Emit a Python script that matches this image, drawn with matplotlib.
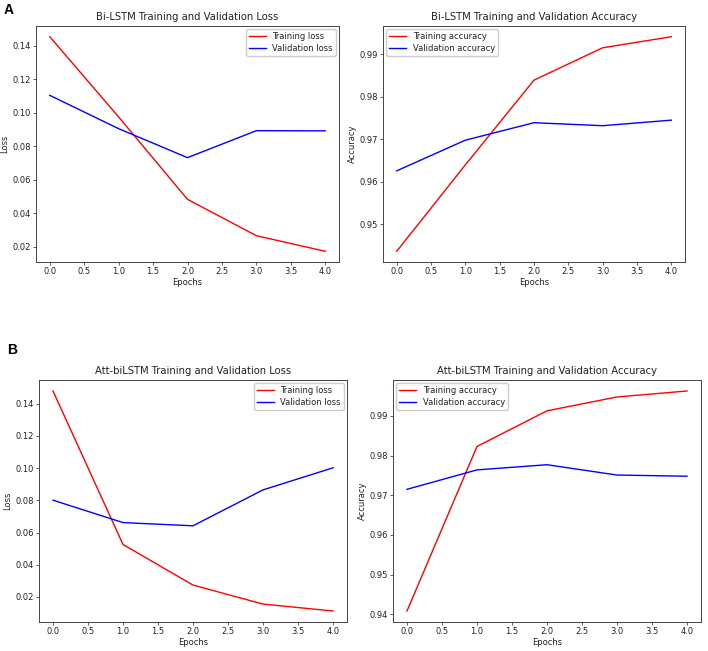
import matplotlib
matplotlib.use("Agg")
import matplotlib.pyplot as plt

epochs = [0, 1, 2, 3, 4]

# Panel A: Bi-LSTM
bilstm_train_loss = [0.1454, 0.0975, 0.0483, 0.0266, 0.0173]
bilstm_val_loss = [0.1104, 0.0905, 0.0732, 0.0893, 0.0892]
bilstm_train_acc = [0.9437, 0.9640, 0.9839, 0.9915, 0.9941]
bilstm_val_acc = [0.9626, 0.9698, 0.9739, 0.9732, 0.9745]

# Panel B: Att-biLSTM
att_train_loss = [0.1479, 0.0526, 0.0274, 0.0156, 0.0113]
att_val_loss = [0.0801, 0.0662, 0.0642, 0.0865, 0.1002]
att_train_acc = [0.9408, 0.9823, 0.9913, 0.9948, 0.9963]
att_val_acc = [0.9715, 0.9764, 0.9777, 0.9751, 0.9748]

W, H = 708, 651
fig = plt.figure(figsize=(W / 100, H / 100), dpi=100)

def ax_at(l, t, r, b):
    return fig.add_axes([l / W, 1 - b / H, (r - l) / W, (b - t) / H])

TS = 7.2
FS = 6
LW = 1.0
EDGE = "#444444"
TXT = "#222222"

def style(ax, title, ylabel, legloc):
    ax.set_title(title, fontsize=TS, pad=4, color=TXT)
    ax.set_xlabel("Epochs", fontsize=FS, labelpad=1, color=TXT)
    ax.set_ylabel(ylabel, fontsize=FS, labelpad=2, color=TXT)
    ax.tick_params(labelsize=FS, length=2.5, width=0.6, pad=1.2,
                   color=EDGE, labelcolor=TXT)
    for s in ax.spines.values():
        s.set_linewidth(0.7)
        s.set_color(EDGE)
    leg = ax.legend(loc=legloc, fontsize=FS, framealpha=1.0, borderpad=0.35,
                    handlelength=2.0, labelspacing=0.3, fancybox=True,
                    borderaxespad=0.4)
    for t in leg.get_texts():
        t.set_color(TXT)

ax1 = ax_at(36, 26, 339, 262)
ax1.plot(epochs, bilstm_train_loss, color="red", lw=LW, label="Training loss")
ax1.plot(epochs, bilstm_val_loss, color="blue", lw=LW, label="Validation loss")
style(ax1, "Bi-LSTM Training and Validation Loss", "Loss", "upper right")

ax2 = ax_at(383, 26, 685, 262)
ax2.plot(epochs, bilstm_train_acc, color="red", lw=LW, label="Training accuracy")
ax2.plot(epochs, bilstm_val_acc, color="blue", lw=LW, label="Validation accuracy")
ax2.set_yticks([0.95, 0.96, 0.97, 0.98, 0.99])
style(ax2, "Bi-LSTM Training and Validation Accuracy", "Accuracy", "upper left")

ax3 = ax_at(39, 380, 347, 622)
ax3.plot(epochs, att_train_loss, color="red", lw=LW, label="Training loss")
ax3.plot(epochs, att_val_loss, color="blue", lw=LW, label="Validation loss")
style(ax3, "Att-biLSTM Training and Validation Loss", "Loss", "upper right")

ax4 = ax_at(393, 380, 701, 622)
ax4.plot(epochs, att_train_acc, color="red", lw=LW, label="Training accuracy")
ax4.plot(epochs, att_val_acc, color="blue", lw=LW, label="Validation accuracy")
style(ax4, "Att-biLSTM Training and Validation Accuracy", "Accuracy", "upper left")

fig.text(4 / W, 1 - 3 / H, "A", fontsize=10, fontweight="bold",
         family="Liberation Sans", va="top", ha="left")
fig.text(7 / W, 1 - 343 / H, "B", fontsize=10, fontweight="bold",
         family="Liberation Sans", va="top", ha="left")

fig.savefig("out.png", dpi=100)
